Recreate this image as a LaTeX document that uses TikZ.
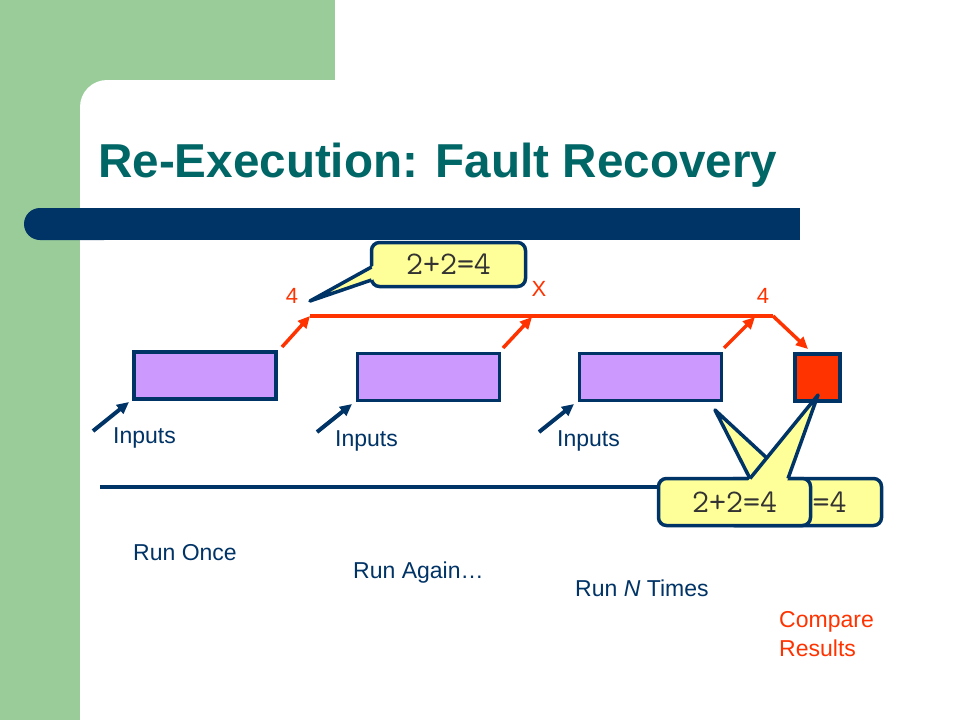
\documentclass[tikz,border=0pt]{standalone}
\usepackage{fontspec}
\setmainfont{Liberation Sans}
\usetikzlibrary{arrows.meta,calc}
\definecolor{gbg}{HTML}{99CC99}
\definecolor{navy}{HTML}{003366}
\definecolor{ttl}{HTML}{006666}
\definecolor{lav}{HTML}{CC99FF}
\definecolor{rd}{HTML}{FF3300}
\definecolor{yl}{HTML}{FFFF99}
\definecolor{txtg}{HTML}{333333}
\tikzset{
  pbox/.style={draw=navy, fill=lav, line width=3.5pt, minimum width=142pt, minimum height=47pt, inner sep=0pt},
  rbox/.style={draw=navy, fill=rd, line width=3.5pt, minimum width=45pt, minimum height=47pt, inner sep=0pt},
  cbox/.style={draw=navy, fill=yl, line width=3.5pt, rounded corners=8pt, minimum height=47pt, inner sep=0pt, text=txtg, font=\ttfamily\fontsize{33}{33}\selectfont},
  cedge/.style={draw=navy, line width=3.5pt, line join=round},
  redarrow/.style={draw=rd, line width=3.5pt, -{Triangle[length=12pt,width=11pt]}},
  navyarrow/.style={draw=navy, line width=4pt, -{Triangle[length=12pt,width=11pt]}},
  lbl/.style={anchor=base west, inner sep=0pt, text=navy, font=\fontsize{23}{28}\selectfont},
  rlbl/.style={inner sep=0pt, text=rd, font=\fontsize{22}{26}\selectfont},
}
\begin{document}
\begin{tikzpicture}[x=1pt,y=-1pt]
\useasboundingbox (0,0) rectangle (960,720);
% background
\fill[gbg] (0,0) rectangle (335,720);
\fill[white, rounded corners=27pt] (80,80) rectangle (1000,760);
% title bar
\fill[navy, rounded corners=16pt] (24,208) rectangle (120,240);
\fill[navy] (60,208) rectangle (800,240);
\node[anchor=base west, inner sep=0pt, text=ttl, font=\fontsize{47.6}{52}\selectfont\bfseries] (title) at (98,177) {Re-Execution: Fault Recovery};
% time line
\coordinate (lineL) at (100,487);
\coordinate (lineR) at (870,487);
\draw[navy, line width=4pt] (lineL) -- (lineR);
% boxes
\node[pbox] (b1) at (205,375.5) {};
\node[pbox] (b2) at (428.5,377) {};
\node[pbox] (b3) at (650.5,377) {};
\node[rbox] (rb) at (817.5,377.5) {};
% red line and arrows
\coordinate (rL) at (310,316);
\coordinate (rM) at (532,317);
\coordinate (rN) at (755,317);
\coordinate (rR) at (773,316);
\coordinate (a1s) at (282,347);
\coordinate (a2s) at (503,348);
\coordinate (a3s) at (724,348);
\coordinate (a4e) at (808,349);
\draw[rd, line width=3.5pt] (rL) -- (rR);
\draw[redarrow] (a1s) -- (rL);
\draw[redarrow] (a2s) -- (rM);
\draw[redarrow] (a3s) -- (rN);
\draw[redarrow] (rR) -- (a4e);
\node[rlbl] (l1) at (292,296) {4};
\node[rlbl] (lx) at (539,289) {X};
\node[rlbl] (l2) at (763,296) {4};
% inputs
\coordinate (i1s) at (93,431);  \coordinate (i1e) at (129,402);
\coordinate (i2s) at (317,432); \coordinate (i2e) at (352,404);
\coordinate (i3s) at (539,432); \coordinate (i3e) at (574,404);
\draw[navyarrow] (i1s) -- (i1e);
\draw[navyarrow] (i2s) -- (i2e);
\draw[navyarrow] (i3s) -- (i3e);
\node[lbl] (in1) at (113,443) {Inputs};
\node[lbl] (in2) at (335,446) {Inputs};
\node[lbl] (in3) at (557,446) {Inputs};
% run labels
\node[lbl] (run1) at (133,560) {Run Once};
\node[lbl] (run2) at (353,578) {Run Again…};
\node[lbl] (run3) at (575,596) {Run \textit{N} Times};
\node[lbl, text=rd] (cmp1) at (779,627) {Compare};
\node[lbl, text=rd] (cmp2) at (779,656) {Results};
% back callout
\node[cbox, minimum width=155pt] (c2) at (804,502) {2+2=4};
\coordinate (c2t) at (715,410);
\coordinate (c2a) at (750,478.5);
\coordinate (c2b) at (789,478.5);
\fill[yl] (c2t) -- ($(c2t)!1.1!(c2a)$) -- ($(c2t)!1.1!(c2b)$) -- cycle;
\draw[cedge] (c2a) -- (c2t) -- (c2b);
% front callout
\node[cbox, minimum width=152pt] (c3) at (734.5,502) {2+2=4};
\coordinate (c3t) at (818,395);
\coordinate (c3a) at (750,478.5);
\coordinate (c3b) at (788,478.5);
\fill[yl] (c3t) -- ($(c3t)!1.1!(c3a)$) -- ($(c3t)!1.1!(c3b)$) -- cycle;
\draw[cedge] (c3a) -- (c3t) -- (c3b);
% top callout
\node[cbox, minimum width=154pt, minimum height=44pt] (c1) at (448.5,264.5) {2+2=4};
\coordinate (c1t) at (310,301);
\coordinate (c1a) at (371.5,267);
\coordinate (c1b) at (371.5,280);
\fill[yl] (c1t) -- ($(c1t)!1.1!(c1a)$) -- ($(c1t)!1.1!(c1b)$) -- cycle;
\draw[cedge] (c1a) -- (c1t) -- (c1b);
\end{tikzpicture}
\end{document}
